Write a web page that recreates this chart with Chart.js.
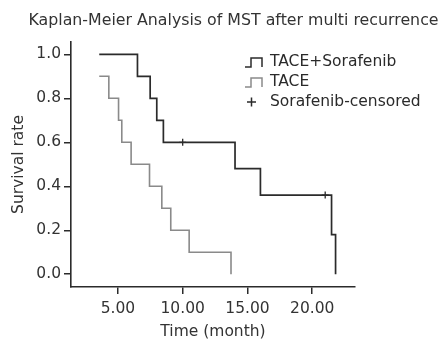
<!DOCTYPE html>
<html>
<head>
<meta charset="utf-8">
<script src="https://cdn.jsdelivr.net/npm/chart.js@4/dist/chart.umd.min.js"></script>
<style>
  html, body { margin: 0; padding: 0; background: #fff; }
  #wrap { width: 439px; height: 340px; }
</style>
</head>
<body>
<div id="wrap"><canvas id="km" width="439" height="340"></canvas></div>
<script>
const chartTitle = 'Kaplan-Meier Analysis of MST after multi recurrence';
const xTitle = 'Time (month)';
const yTitle = 'Survival rate';
const seriesLabels = ['TACE+Sorafenib', 'TACE', 'Sorafenib-censored'];

// step points: time of each drop and the survival rate after it
const comboTimes = [3.56, 6.51, 7.49, 8.0, 8.51, 14.04, 16.0, 21.49, 21.8];
const comboRates = [1.0, 0.9, 0.8, 0.7, 0.6, 0.48, 0.36, 0.18, 0.0];
const taceTimes = [3.56, 4.3, 5.05, 5.3, 6.02, 7.44, 8.39, 9.08, 10.5, 13.73];
const taceRates = [0.9, 0.8, 0.7, 0.6, 0.5, 0.4, 0.3, 0.2, 0.1, 0.0];
const censoredTimes = [10.0, 21.0];
const censoredRates = [0.6, 0.36];

const xTicks = [5, 10, 15, 20];
const yTicks = [0, 0.2, 0.4, 0.6, 0.8, 1.0];

const INK = '#2b2b2b';
const GREY = '#8a8a8a';
const FONT = '"DejaVu Sans", Verdana, sans-serif';

const toPoints = (xs, ys) => xs.map((x, i) => ({ x, y: ys[i] }));

Chart.defaults.font.family = FONT;
Chart.defaults.font.size = 15.5;
Chart.defaults.color = '#333';

// title and legend drawn by hand so they can sit where the original has them
const stepLegend = {
  id: 'stepLegend',
  afterDraw(chart) {
    const ctx = chart.ctx;
    const x0 = 245, textX = 270, rowY = [62, 82, 102];
    ctx.save();
    ctx.textBaseline = 'middle';
    ctx.fillStyle = '#333';
    ctx.font = '15.8px ' + FONT;
    ctx.textAlign = 'center';
    ctx.fillText(chartTitle, 233.5, 21);

    ctx.font = '15.5px ' + FONT;
    ctx.textAlign = 'left';
    ctx.fillStyle = '#2a2a2a';
    chart.data.datasets.forEach((ds, i) => {
      const y = rowY[i];
      ctx.strokeStyle = ds.borderColor;
      ctx.lineWidth = 1.5;
      ctx.beginPath();
      if (ds.showLine) {
        ctx.moveTo(x0, y + 5);
        ctx.lineTo(x0 + 6, y + 5);
        ctx.lineTo(x0 + 6, y - 4);
        ctx.lineTo(x0 + 17, y - 4);
        ctx.lineTo(x0 + 17, y + 5);
      } else {
        ctx.moveTo(x0 + 2, y);
        ctx.lineTo(x0 + 11, y);
        ctx.moveTo(x0 + 6.5, y - 4.5);
        ctx.lineTo(x0 + 6.5, y + 4.5);
      }
      ctx.stroke();
      ctx.fillText(ds.label, textX, y);
    });
    ctx.restore();
  }
};

new Chart(document.getElementById('km'), {
  type: 'scatter',
  data: {
    datasets: [
      {
        label: seriesLabels[0],
        data: toPoints(comboTimes, comboRates),
        showLine: true,
        stepped: 'before',
        borderColor: INK,
        borderWidth: 1.7,
        pointRadius: 0
      },
      {
        label: seriesLabels[1],
        data: toPoints(taceTimes, taceRates),
        showLine: true,
        stepped: 'before',
        borderColor: GREY,
        borderWidth: 1.6,
        pointRadius: 0
      },
      {
        label: seriesLabels[2],
        data: toPoints(censoredTimes, censoredRates),
        showLine: false,
        pointStyle: 'cross',
        pointRadius: 3.5,
        borderColor: INK,
        borderWidth: 1.3
      }
    ]
  },
  options: {
    responsive: false,
    animation: false,
    layout: { padding: { left: 0, right: 2, top: 42, bottom: 0 } },
    plugins: {
      legend: { display: false },
      tooltip: { enabled: false },
      title: { display: false }
    },
    scales: {
      x: {
        type: 'linear',
        min: 1.38,
        max: 23.3,
        afterBuildTicks: s => { s.ticks = xTicks.map(v => ({ value: v })); },
        afterFit: s => { s.height = 53; },
        ticks: { padding: 6, color: '#333', callback: v => v.toFixed(2), maxRotation: 0 },
        grid: { drawOnChartArea: false, drawTicks: true, tickLength: 7, color: INK, lineWidth: 1.5 },
        border: { display: true, color: INK, width: 1.6 },
        title: {
          display: true,
          text: xTitle,
          color: '#333',
          font: { size: 15.5, lineHeight: 1.1 },
          padding: { top: 0, bottom: 0 }
        }
      },
      y: {
        type: 'linear',
        min: -0.058,
        max: 1.056,
        afterBuildTicks: s => { s.ticks = yTicks.map(v => ({ value: v })); },
        afterFit: s => { s.width = 71; },
        ticks: { padding: 3, color: '#333', callback: v => v.toFixed(1) },
        grid: { drawOnChartArea: false, drawTicks: true, tickLength: 7, color: INK, lineWidth: 1.5 },
        border: { display: true, color: INK, width: 1.6 },
        title: {
          display: true,
          text: yTitle,
          color: '#333',
          font: { size: 15.5, lineHeight: 1.2 },
          padding: { top: 10, bottom: 0 }
        }
      },
      spacer: {
        type: 'linear',
        position: 'right',
        display: true,
        afterFit: s => { s.width = 82; },
        ticks: { display: false },
        grid: { display: false },
        border: { display: false }
      }
    }
  },
  plugins: [stepLegend]
});
</script>
</body>
</html>
